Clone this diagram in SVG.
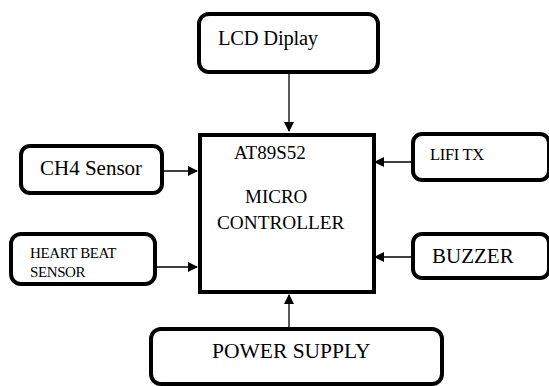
<svg xmlns="http://www.w3.org/2000/svg" width="549" height="386" viewBox="0 0 549 386">
<defs>
<style>
.box{fill:#fff;stroke:#000;stroke-width:4}
text{font-family:'Liberation Serif','Times New Roman',Times,serif;fill:#000}
.c{stroke:#000;stroke-width:1.3;fill:none}
</style>
<marker id="ah" markerWidth="10" markerHeight="10" refX="9" refY="5" orient="auto" markerUnits="userSpaceOnUse">
<path d="M0,0 L10,5 L0,10 Z" fill="#000"/>
</marker>
</defs>
<rect width="549" height="386" fill="#fff"/>
<g id="connectors">
<line class="c" x1="289" y1="72" x2="289" y2="131" marker-end="url(#ah)"/>
<line class="c" x1="162" y1="171" x2="197" y2="171" marker-end="url(#ah)"/>
<line class="c" x1="156" y1="267" x2="197" y2="267" marker-end="url(#ah)"/>
<line class="c" x1="412" y1="162" x2="375" y2="162" marker-end="url(#ah)"/>
<line class="c" x1="412" y1="257" x2="375" y2="257" marker-end="url(#ah)"/>
<line class="c" x1="289" y1="328" x2="289" y2="295" marker-end="url(#ah)"/>
</g>
<g id="lcd">
<rect class="box" x="199" y="14" width="179" height="58" rx="10"/>
<text font-family="Liberation Serif, serif" x="218" y="45" font-size="20.5" letter-spacing="-0.2">LCD Diplay</text>
</g>
<g id="mcu">
<rect class="box" x="200" y="135" width="174" height="157"/>
<text font-family="Liberation Serif, serif" x="234" y="159" font-size="19">AT89S52</text>
<text font-family="Liberation Serif, serif" x="245" y="203" font-size="19">MICRO</text>
<text font-family="Liberation Serif, serif" x="217" y="229" font-size="19.3">CONTROLLER</text>
</g>
<g id="ch4">
<rect class="box" x="21" y="146" width="141" height="47" rx="9"/>
<text font-family="Liberation Serif, serif" x="40" y="175" font-size="21">CH4 Sensor</text>
</g>
<g id="heartbeat">
<rect class="box" x="11" y="234" width="144" height="50" rx="10"/>
<text font-family="Liberation Serif, serif" x="30" y="258" font-size="15" letter-spacing="-0.4">HEART BEAT</text>
<text font-family="Liberation Serif, serif" x="30" y="277" font-size="15" letter-spacing="-0.4">SENSOR</text>
</g>
<g id="lifi">
<rect class="box" x="413" y="134" width="136" height="46" rx="9"/>
<text font-family="Liberation Serif, serif" x="430" y="160" font-size="16.5" letter-spacing="-0.3">LIFI TX</text>
</g>
<g id="buzzer">
<rect class="box" x="413" y="234" width="136" height="44" rx="9"/>
<text font-family="Liberation Serif, serif" x="432" y="263" font-size="21">BUZZER</text>
</g>
<g id="power">
<rect class="box" x="151" y="329" width="291" height="55" rx="10"/>
<text font-family="Liberation Serif, serif" x="212" y="358" font-size="21.5">POWER SUPPLY</text>
</g>
</svg>
